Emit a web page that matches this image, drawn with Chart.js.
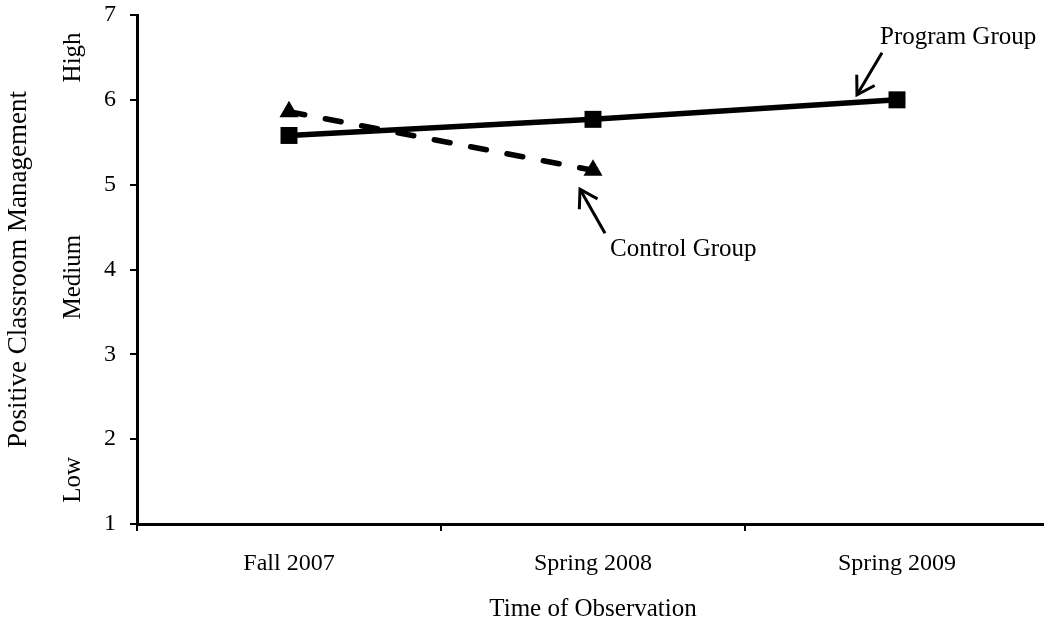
<!DOCTYPE html>
<html>
<head>
<meta charset="utf-8">
<script src="https://cdn.jsdelivr.net/npm/chart.js@4"></script>
<style>
  html, body { margin: 0; padding: 0; background: #fff; overflow: hidden; }
  #wrap { width: 1061px; height: 622px; }
</style>
</head>
<body>
<div id="wrap"><canvas id="c" width="1061" height="622"></canvas></div>
<script>
const categories = ["Fall 2007", "Spring 2008", "Spring 2009"];
const programGroup = [5.58, 5.77, 6.0];
const controlGroup = [5.86, 5.17, null];
const yTicks = [1, 2, 3, 4, 5, 6, 7];
const levelLabels = [
  { text: "High", value: 6.5 },
  { text: "Medium", value: 3.91 },
  { text: "Low", value: 1.52 }
];
const seriesNames = ["Program Group", "Control Group"];

const FONT = "'Liberation Serif', 'Times New Roman', serif";

const annotations = {
  id: "annotations",
  afterDatasetsDraw(chart) {
    const { ctx, scales } = chart;
    const x = scales.x, y = scales.y;
    ctx.save();
    ctx.fillStyle = "#000";
    ctx.strokeStyle = "#000";
    ctx.font = "25px " + FONT;
    ctx.textBaseline = "alphabetic";
    ctx.textAlign = "left";

    // Program Group label + arrow (anchored at last program point)
    const px = x.getPixelForValue(2), py = y.getPixelForValue(programGroup[2]);
    ctx.fillText(seriesNames[0], px - 17, py - 56);
    drawArrow(ctx, px - 15, py - 47, px - 40, py - 5);

    // Control Group label + arrow (anchored at last control point)
    const cx = x.getPixelForValue(1), cy = y.getPixelForValue(controlGroup[1]);
    ctx.fillText(seriesNames[1], cx + 17, cy + 86);
    drawArrow(ctx, cx + 12, cy + 63, cx - 13, cy + 19);

    // level labels (rotated)
    ctx.textAlign = "center";
    ctx.textBaseline = "middle";
    levelLabels.forEach(l => {
      const ly = y.getPixelForValue(l.value);
      ctx.save();
      ctx.translate(73, ly);
      ctx.rotate(-Math.PI / 2);
      ctx.fillText(l.text, 0, 0);
      ctx.restore();
    });
    ctx.restore();
  }
};

function drawArrow(ctx, x1, y1, x2, y2) {
  ctx.save();
  ctx.lineWidth = 3;
  ctx.lineCap = "butt";
  ctx.lineJoin = "miter";
  ctx.beginPath();
  ctx.moveTo(x1, y1);
  ctx.lineTo(x2, y2);
  ctx.stroke();
  const ang = Math.atan2(y2 - y1, x2 - x1);
  const len = 20, spread = 0.55;
  ctx.beginPath();
  ctx.moveTo(x2 - len * Math.cos(ang - spread), y2 - len * Math.sin(ang - spread));
  ctx.lineTo(x2, y2);
  ctx.lineTo(x2 - len * Math.cos(ang + spread), y2 - len * Math.sin(ang + spread));
  ctx.stroke();
  ctx.restore();
}

new Chart(document.getElementById("c"), {
  type: "line",
  data: {
    labels: categories,
    datasets: [
      {
        label: seriesNames[0],
        data: programGroup,
        borderColor: "#000",
        backgroundColor: "#000",
        borderWidth: 5.5,
        pointStyle: "rect",
        pointRadius: 12,
        pointBorderWidth: 0,
        pointBackgroundColor: "#000",
        tension: 0,
        fill: false
      },
      {
        label: seriesNames[1],
        data: controlGroup,
        borderColor: "#000",
        backgroundColor: "#000",
        borderWidth: 5.5,
        borderDash: [16, 21],
        borderCapStyle: "round",
        pointStyle: "triangle",
        pointRadius: 11,
        pointBorderWidth: 0,
        pointBackgroundColor: "#000",
        tension: 0,
        fill: false,
        spanGaps: false
      }
    ]
  },
  options: {
    responsive: false,
    animation: false,
    events: [],
    layout: { padding: { top: 15, right: 1, left: 0, bottom: 0 } },
    plugins: {
      legend: { display: false },
      tooltip: { enabled: false }
    },
    scales: {
      x: {
        type: "category",
        offset: true,
        grid: {
          offset: true,
          drawOnChartArea: false,
          drawTicks: true,
          tickLength: 7,
          color: "#000",
          lineWidth: 2
        },
        border: { display: true, color: "#000", width: 3 },
        ticks: {
          color: "#000",
          font: { family: FONT, size: 24 },
          padding: 18,
          maxRotation: 0
        },
        title: {
          display: true,
          text: "Time of Observation",
          color: "#000",
          font: { family: FONT, size: 25 },
          padding: { top: 0, bottom: -2 }
        },
        afterFit(scale) {
          scale.height = 98;
          scale.paddingLeft = 0;
          scale.paddingRight = 0;
        }
      },
      y: {
        min: 1,
        max: 7,
        afterBuildTicks(scale) { scale.ticks = yTicks.map(v => ({ value: v })); },
        grid: {
          drawOnChartArea: false,
          drawTicks: true,
          tickLength: 7,
          color: "#000",
          lineWidth: 2
        },
        border: { display: true, color: "#000", width: 3 },
        ticks: {
          color: "#000",
          font: { family: FONT, size: 24 },
          padding: 14
        },
        title: {
          display: true,
          text: "Positive Classroom Management",
          color: "#000",
          font: { family: FONT, size: 27 },
          padding: { top: 3, bottom: 0 }
        },
        afterFit(scale) {
          scale.width = 137;
          scale.paddingTop = 0;
          scale.paddingBottom = 0;
        }
      }
    }
  },
  plugins: [annotations]
});
</script>
</body>
</html>
